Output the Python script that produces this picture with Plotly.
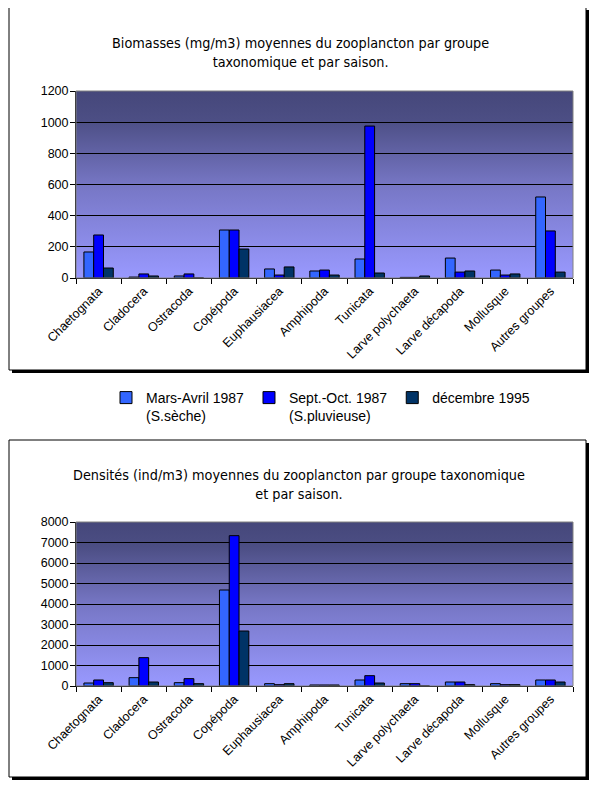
import base64
import plotly.graph_objects as go

categories = ["Chaetognata", "Cladocera", "Ostracoda", "Copépoda", "Euphausiacea",
              "Amphipoda", "Tunicata", "Larve polychaeta", "Larve décapoda",
              "Mollusque", "Autres groupes"]

series_names = ["Mars-Avril 1987<br>(S.sèche)", "Sept.-Oct. 1987<br>(S.pluvieuse)", "décembre 1995"]

biomasse_mars_avril_1987 = [167, 6, 13, 308, 58, 45, 122, 4, 128, 51, 520]
biomasse_sept_oct_1987 = [276, 26, 26, 308, 19, 51, 975, 4, 38, 19, 302]
biomasse_dec_1995 = [64, 13, 0, 186, 71, 19, 32, 13, 45, 26, 38]

densite_mars_avril_1987 = [146, 407, 163, 4683, 114, 50, 293, 114, 195, 114, 293]
densite_sept_oct_1987 = [293, 1382, 358, 7333, 65, 50, 504, 114, 195, 65, 293]
densite_dec_1995 = [163, 195, 114, 2683, 114, 50, 146, 0, 65, 65, 195]

colors = ["#3366FF", "#0000FF", "#003366"]

W, H = 600, 788
OFF = 8  # page body margin
def px(x):
    return (x - OFF) / W
def py(y):
    return 1 - (y - OFF) / H

fig = go.Figure()

bio = [biomasse_mars_avril_1987, biomasse_sept_oct_1987, biomasse_dec_1995]
den = [densite_mars_avril_1987, densite_sept_oct_1987, densite_dec_1995]

for i in range(3):
    fig.add_trace(go.Bar(x=categories, y=bio[i], name=series_names[i],
                         marker=dict(color=colors[i], line=dict(color="black", width=1)),
                         xaxis="x", yaxis="y", legendgroup=str(i), showlegend=True))
for i in range(3):
    fig.add_trace(go.Bar(x=categories, y=den[i], name=series_names[i],
                         marker=dict(color=colors[i], line=dict(color="black", width=1)),
                         xaxis="x2", yaxis="y2", legendgroup=str(i), showlegend=False))

shapes = []
# chart frames with shadow
for (x0, y0, x1, y1) in [(9, 7, 586, 370), (9, 440, 586, 777)]:
    shapes.append(dict(type="rect", xref="paper", yref="paper", layer="below",
                       x0=px(x0 + 3), x1=px(x1 + 3), y0=py(y0 + 3), y1=py(y1 + 3),
                       fillcolor="black", line=dict(width=0)))
    shapes.append(dict(type="rect", xref="paper", yref="paper", layer="below",
                       x0=px(x0), x1=px(x1), y0=py(y0), y1=py(y1),
                       fillcolor="white", line=dict(color="black", width=1)))

for xr, yr in [("x domain", "y domain"), ("x2 domain", "y2 domain")]:
    shapes.append(dict(type="rect", xref=xr, yref=yr, layer="above",
                       x0=0, x1=1, y0=0, y1=1, line=dict(color="#808080", width=1)))

# gradient background image (SVG)
svg = ("<svg xmlns='http://www.w3.org/2000/svg' width='10' height='100' viewBox='0 0 10 100' "
       "preserveAspectRatio='none'><defs><linearGradient id='g' x1='0' y1='0' x2='0' y2='1'>"
       "<stop offset='0' stop-color='#45477A'/>"
       "<stop offset='0.15' stop-color='#4C4E84'/>"
       "<stop offset='0.5' stop-color='#7676C4'/>"
       "<stop offset='1' stop-color='#9999FF'/>"
       "</linearGradient></defs><rect width='10' height='100' fill='url(#g)'/></svg>")
src = "data:image/svg+xml;base64," + base64.b64encode(svg.encode()).decode()
images = []
for xr, yr in [("x domain", "y domain"), ("x2 domain", "y2 domain")]:
    images.append(dict(source=src, xref=xr, yref=yr, x=0, y=1, sizex=1, sizey=1,
                       xanchor="left", yanchor="top", sizing="stretch", layer="below"))

tickfont = dict(family="Liberation Sans, Arial, sans-serif", size=12.5, color="black")
xfont = dict(family="Liberation Sans, Arial, sans-serif", size=12.5, color="black")

axis_common_x = dict(showgrid=False, showline=True, linecolor="black", linewidth=1,
                     ticks="outside", ticklen=5, tickcolor="black", tickson="boundaries",
                     tickangle=-45, tickfont=xfont, fixedrange=True, automargin=False)
axis_common_y = dict(showgrid=True, gridcolor="black", gridwidth=1, showline=True,
                     linecolor="black", linewidth=1, ticks="outside", ticklen=5,
                     tickcolor="black", tickfont=tickfont, zeroline=False, fixedrange=True,
                     automargin=False, ticklabelstandoff=-1)

title_font = dict(family="DejaVu Sans Condensed, Liberation Sans, Arial, sans-serif", size=14.3, color="black")

fig.update_layout(
    width=W, height=H,
    margin=dict(l=0, r=0, t=0, b=0, autoexpand=False),
    paper_bgcolor="white",
    plot_bgcolor="rgba(0,0,0,0)",
    barmode="group", bargap=0.35, bargroupgap=0,
    shapes=shapes,
    images=images,
    xaxis=dict(domain=[px(76), px(573)], anchor="y", **axis_common_x),
    yaxis=dict(domain=[py(278), py(91)], anchor="x", range=[0, 1200], dtick=200, **axis_common_y),
    xaxis2=dict(domain=[px(76), px(573)], anchor="y2", **axis_common_x),
    yaxis2=dict(domain=[py(686), py(522)], anchor="x2", range=[0, 8000], dtick=1000, **axis_common_y),
    legend=dict(orientation="h", x=px(106), y=py(382), xanchor="left", yanchor="top",
                font=dict(family="Liberation Sans, Arial, sans-serif", size=14, color="black"),
                valign="top", bgcolor="rgba(0,0,0,0)", itemwidth=30, traceorder="normal"),
    annotations=[
        dict(text="Biomasses (mg/m3) moyennes du zooplancton par groupe<br>taxonomique et par saison.",
             xref="paper", yref="paper", x=px(300), y=py(53), xanchor="center", yanchor="middle",
             showarrow=False, align="center", font=title_font),
        dict(text="Densités (ind/m3) moyennes du zooplancton par groupe taxonomique<br>et par saison.",
             xref="paper", yref="paper", x=px(299), y=py(484), xanchor="center", yanchor="middle",
             showarrow=False, align="center", font=title_font),
    ],
)

fig.write_html("out.html")
